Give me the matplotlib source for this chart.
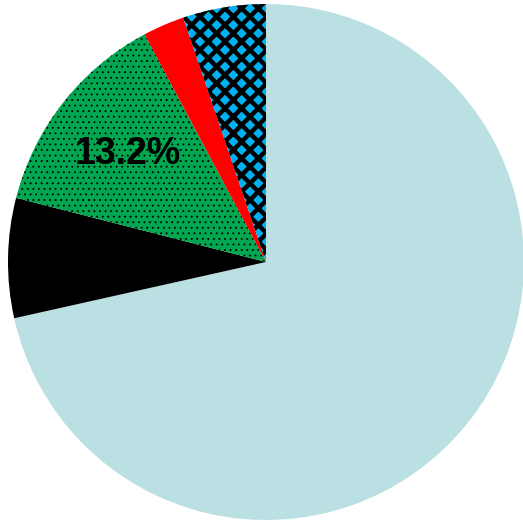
import numpy as np
import matplotlib
matplotlib.use('Agg')
import matplotlib.pyplot as plt

# slice shares in %, clockwise from 12 o'clock
labels = ['A', 'B', 'C', 'D', 'E']
shares = [71.5, 7.5, 13.2, 2.6, 5.2]
colors = ['#bae0e3', '#000000', '#00a650', '#ff0000', '#00b0f0']
hatches = [None, None, '...', None, 'xx']
hatch_lw = [0, 0, 0.6, 0, 3.2]
show_label = [False, False, True, False, False]

plt.rcParams['hatch.color'] = 'black'

fig = plt.figure(figsize=(5.23, 5.20), dpi=100)
ax = fig.add_axes([8 / 523, 0, 516 / 523, 516 / 520])

wedges, _ = ax.pie(shares, colors=colors, startangle=90, counterclock=False,
                   radius=1.0, wedgeprops={'linewidth': 0})

for w, h, lw in zip(wedges, hatches, hatch_lw):
    if h:
        plt.rcParams['hatch.linewidth'] = lw
        w.set_hatch(h)
        w.set_edgecolor('black')
        w.set_linewidth(0)
        if hasattr(w, 'set_hatch_linewidth'):
            w.set_hatch_linewidth(lw)
        else:
            w._hatch_linewidth = lw

for w, val, show in zip(wedges, shares, show_label):
    if not show:
        continue
    mid = np.deg2rad((w.theta1 + w.theta2) / 2)
    r = 0.68
    ax.text(r * np.cos(mid), r * np.sin(mid), f'{val:.1f}%', ha='center', va='center',
            fontsize=27, fontweight='bold', family='Liberation Sans', color='black')

ax.set_xlim(-1, 1)
ax.set_ylim(-1, 1)
ax.set_aspect('equal')
ax.axis('off')

fig.savefig('out.png', dpi=100)
